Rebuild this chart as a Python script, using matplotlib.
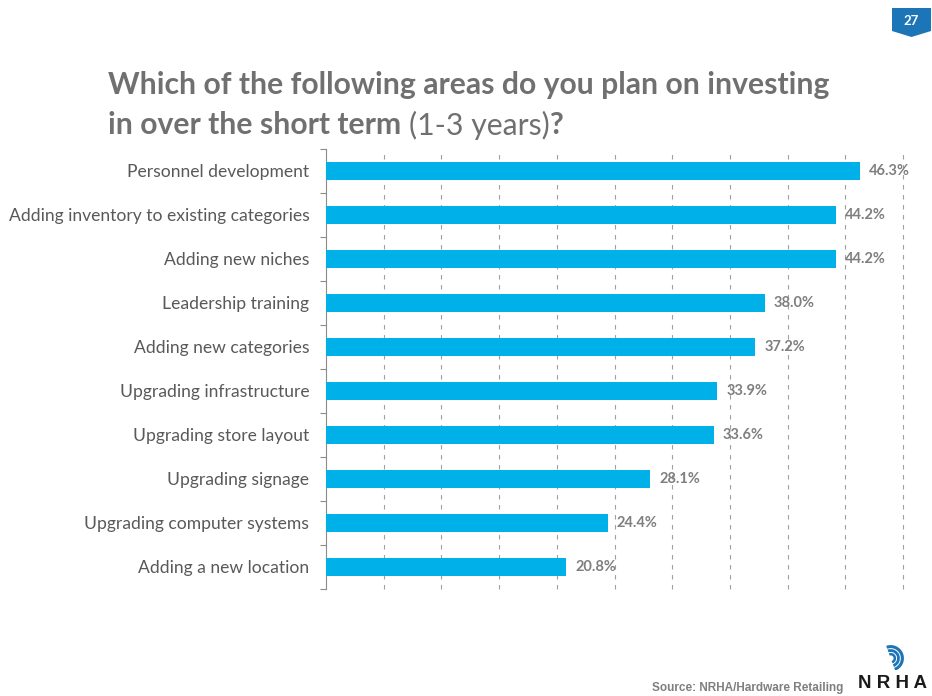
import matplotlib
matplotlib.use("Agg")
import matplotlib.pyplot as plt
from matplotlib.patches import Polygon, Arc

categories = [
    "Personnel development",
    "Adding inventory to existing categories",
    "Adding new niches",
    "Leadership training",
    "Adding new categories",
    "Upgrading infrastructure",
    "Upgrading store layout",
    "Upgrading signage",
    "Upgrading computer systems",
    "Adding a new location",
]
values = [46.3, 44.2, 44.2, 38.0, 37.2, 33.9, 33.6, 28.1, 24.4, 20.8]
x_ticks = [5, 10, 15, 20, 25, 30, 35, 40, 45, 50]

BAR = "#00B0E8"
LABEL = "#595959"
VALUE = "#7F7F7F"
TITLE = "#707070"

plt.rcParams["font.family"] = ["Lato", "DejaVu Sans"]

W, H = 932, 696
fig = plt.figure(figsize=(W / 100, H / 100), dpi=100)

ax = fig.add_axes([326 / W, 1 - 589 / H, 577 / W, 440 / H])
ypos = list(range(len(categories)))
ax.barh(ypos, values, height=0.4, color=BAR, zorder=3)
ax.set_xlim(0, 50)
ax.set_ylim(len(categories) - 0.5, -0.5)

for y, v in zip(ypos, values):
    ax.annotate(f"{v:.1f}%", (v, y), xytext=(6.5, 0), textcoords="offset points",
                ha="left", va="center", fontsize=10.5, fontweight="bold",
                color=VALUE, zorder=4)

ax.set_xticks(x_ticks)
ax.xaxis.grid(True, linestyle=(0, (4, 5)), color="#A0A0A0", linewidth=0.8, zorder=0)
for gl in ax.get_xgridlines():
    gl.set_clip_on(False)
ax.tick_params(axis="x", length=0, labelbottom=False)

ax.set_yticks(ypos)
ax.set_yticklabels(categories, fontsize=12.6, color=LABEL)
ax.tick_params(axis="y", which="major", length=0, pad=12)
ax.set_yticks([i - 0.5 for i in range(len(categories) + 1)], minor=True)
ax.tick_params(axis="y", which="minor", length=4, color="#8C8C8C", width=0.8)

for s in ("top", "right", "bottom"):
    ax.spines[s].set_visible(False)
ax.spines["left"].set_color("#8C8C8C")
ax.spines["left"].set_linewidth(0.8)

# Title, with mixed weights on the second line
fig.text(108 / W, 1 - 85 / H, "Which of the following areas do you plan on investing",
         fontsize=21.7, fontweight="bold", color=TITLE, va="center", ha="left")
renderer = fig.canvas.get_renderer()
x0 = 108
parts = [("in over the short term ", "bold"), ("(1-3 years)", "normal"), ("?", "bold")]
for txt, wt in parts:
    t = fig.text(x0 / W, 1 - 125 / H, txt, fontsize=21.7, fontweight=wt,
                 color=TITLE, va="center", ha="left")
    bb = t.get_window_extent(renderer)
    x0 = bb.x1

# Page number badge
pts = [(892, 8), (931, 8), (931, 31), (911.5, 37), (892, 31)]
badge = Polygon([(x / W, 1 - y / H) for x, y in pts], closed=True,
                transform=fig.transFigure, facecolor="#1C75B6", edgecolor="none")
fig.patches.append(badge)
fig.text(911.5 / W, 1 - 21 / H, "27", fontsize=9.5, fontweight="bold", color="white",
         ha="center", va="center")

# Footer
fig.text(843 / W, 1 - 688 / H, "Source: NRHA/Hardware Retailing", fontsize=8.5,
         fontweight="bold", color="#7F7F7F", ha="right", va="center",
         family=["Liberation Sans", "DejaVu Sans"])
fig.text(892 / W, 1 - 684 / H, "N R H A", fontsize=13.5, fontweight="bold",
         color="#1A1A1A", ha="center", va="center", family=["Liberation Sans", "DejaVu Sans"])

logo = fig.add_axes([878 / W, 1 - 670 / H, 28 / W, 26 / H])
logo.set_xlim(-1, 1)
logo.set_ylim(-1, 1)
logo.set_aspect("equal")
logo.axis("off")
for r, lw in [(0.9, 2.2), (0.6, 2.0), (0.32, 1.8)]:
    logo.add_patch(Arc((-0.1, -0.1), 2 * r, 2 * r, theta1=-70, theta2=110,
                       color="#1C75B6", linewidth=lw))

fig.savefig("out.png", dpi=100, facecolor="white")
